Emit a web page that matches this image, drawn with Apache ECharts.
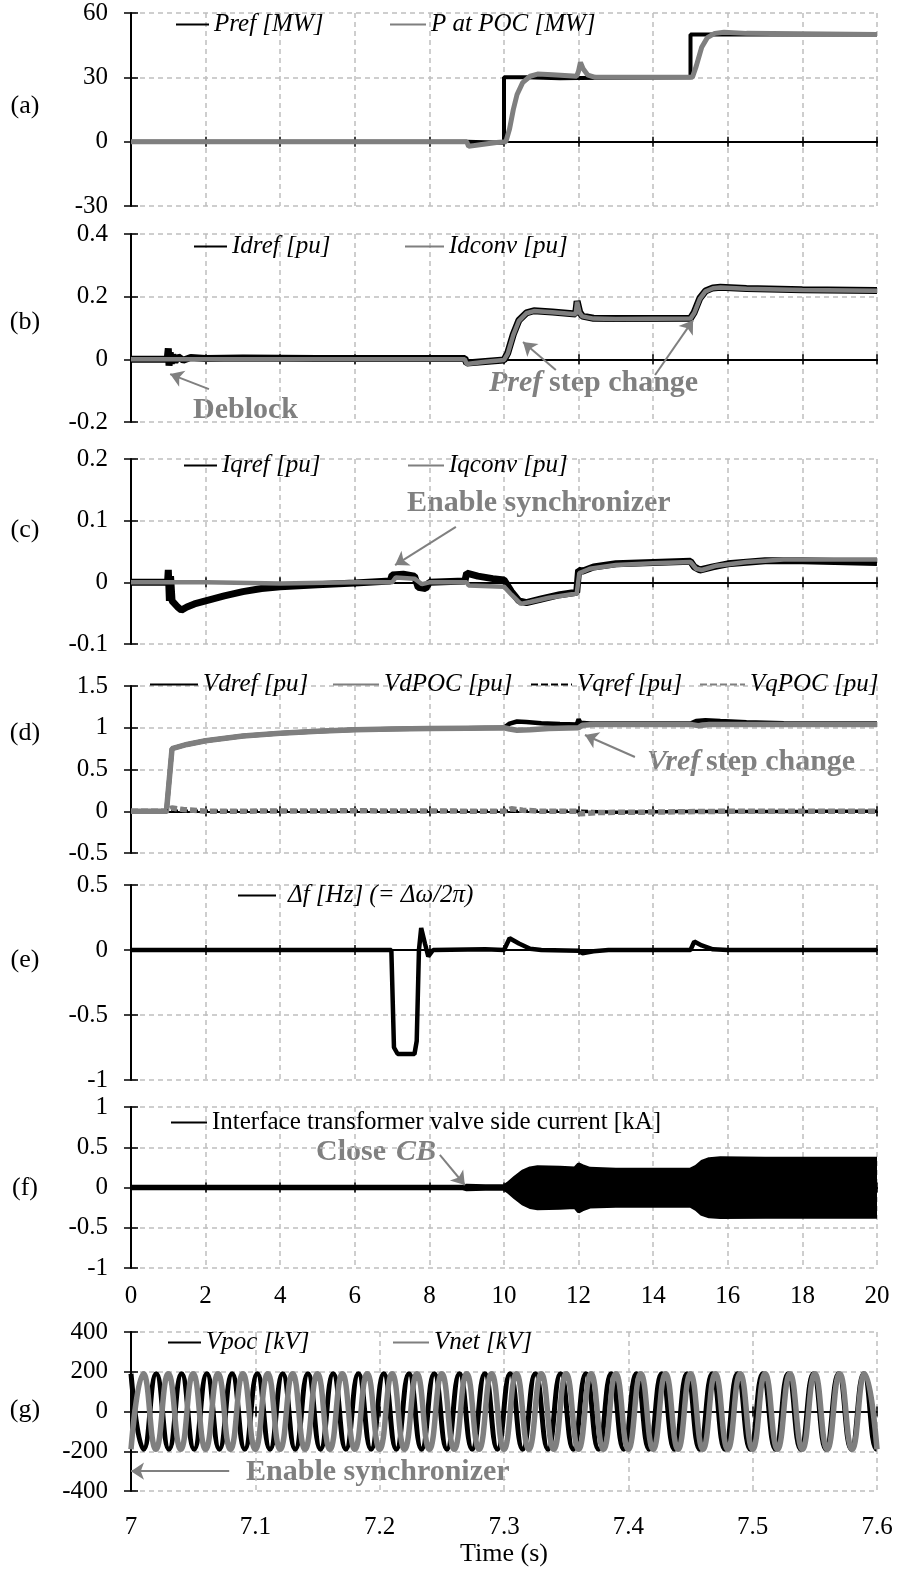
<!DOCTYPE html>
<html><head><meta charset="utf-8">
<script src="https://cdn.jsdelivr.net/npm/echarts@6/dist/echarts.min.js"></script>
<style>html,body{margin:0;padding:0;background:#fff}#c{width:919px;height:1572px}</style>
</head><body><div id="c"></div><script>
// ---------- DATA (time [s], value) ----------
// (a)
const prefMW = [[0,0],[9.0,0],[9.05,-0.8],[10.0,-0.5],[10.0,30],[10.6,30],[11.5,29.6],[12.0,29.7],[12.05,30],[15.0,30],[15.0,50],[20,50]];
const pPocMW = [[0,0],[9.0,0],[9.05,-2.2],[9.4,-1.3],[9.8,-0.4],[10.05,0],[10.15,6],[10.25,15],[10.35,22],[10.5,27.5],[10.7,30.5],[10.9,31.5],[11.3,31.2],[11.95,30.5],[12.0,33],[12.05,37],[12.12,34],[12.25,31],[12.45,30],[15.05,30],[15.15,35],[15.3,44],[15.45,48.5],[15.65,50.5],[15.9,51],[16.5,50.5],[20,50]];
// (b)
const idrefPU = [[0,0],[0.97,0],[1.0,0.035],[1.02,-0.02],[1.05,0.022],[1.08,-0.014],[1.12,0.014],[1.18,-0.008],[1.26,0.009],[1.4,-0.003],[1.6,0.006],[2,0.003],[3,0.004],[5,0.003],[7,0.003],[8.95,0.003],[9.0,-0.012],[9.5,-0.007],[10.0,-0.002],[10.1,0.02],[10.25,0.08],[10.4,0.125],[10.6,0.148],[10.8,0.155],[11.3,0.151],[11.92,0.145],[11.96,0.186],[12.03,0.15],[12.1,0.138],[12.4,0.131],[13,0.13],[15.0,0.131],[15.1,0.15],[15.25,0.195],[15.4,0.218],[15.6,0.228],[15.8,0.23],[16.5,0.226],[18,0.222],[20,0.22]];
const idconvPU = [[0,0],[8.95,0],[9.0,-0.015],[9.5,-0.008],[10.0,-0.002],[10.1,0.018],[10.25,0.078],[10.4,0.123],[10.6,0.147],[10.8,0.154],[11.3,0.15],[11.92,0.144],[11.96,0.184],[12.03,0.148],[12.1,0.137],[12.4,0.13],[13,0.129],[15,0.13],[15.1,0.148],[15.25,0.193],[15.4,0.217],[15.6,0.227],[15.8,0.229],[16.5,0.225],[18,0.221],[20,0.219]];
// (c)
const iqrefPU = [[0,0],[0.98,0],[1.0,0.02],[1.03,-0.03],[1.06,0.01],[1.1,-0.03],[1.25,-0.04],[1.35,-0.045],[1.5,-0.04],[1.7,-0.035],[2.0,-0.03],[2.5,-0.022],[3,-0.015],[3.5,-0.01],[4,-0.007],[5,-0.004],[6,-0.001],[6.95,0.002],[7.0,0.012],[7.3,0.013],[7.6,0.01],[7.7,-0.008],[7.9,-0.01],[8.0,0.0],[8.95,0.002],[9.0,0.015],[9.3,0.01],[9.7,0.006],[10.0,0.004],[10.2,-0.015],[10.4,-0.03],[10.6,-0.033],[11,-0.027],[11.5,-0.02],[11.95,-0.016],[12.0,0.02],[12.1,0.018],[12.4,0.025],[13,0.03],[14,0.032],[15.0,0.034],[15.1,0.025],[15.25,0.02],[15.6,0.025],[16,0.03],[17,0.035],[18,0.035],[20,0.032]];
const iqconvPU = [[0,0],[2,0],[4,-0.002],[6,0],[7,0],[7.1,0.008],[7.6,0.006],[7.8,-0.003],[8,0],[9,0],[9.05,-0.005],[10,-0.007],[10.2,-0.02],[10.45,-0.035],[10.7,-0.032],[11.2,-0.025],[11.95,-0.018],[12.02,0.015],[12.3,0.022],[13,0.028],[14,0.031],[15,0.033],[15.15,0.022],[15.3,0.02],[15.7,0.027],[16.5,0.033],[17.5,0.037],[20,0.037]];
// (d)
const vdrefPU = [[0,0],[0.95,0],[1.1,0.75],[1.5,0.8],[2,0.845],[3,0.9],[4,0.935],[5,0.958],[6,0.975],[7,0.985],[8,0.99],[9,0.995],[10,1.0],[10.15,1.05],[10.35,1.075],[10.6,1.07],[11,1.055],[11.5,1.045],[11.95,1.04],[12.0,1.1],[12.05,1.06],[12.3,1.05],[15,1.05],[15.15,1.08],[15.4,1.09],[15.8,1.08],[16.5,1.065],[17.5,1.055],[20,1.05]];
const vdpocPU = [[0,0],[0.95,0],[1.1,0.75],[1.5,0.8],[2,0.845],[3,0.9],[4,0.935],[5,0.958],[6,0.975],[7,0.985],[8,0.99],[9,0.995],[10,1.0],[10.15,0.985],[10.35,0.97],[10.7,0.975],[11.2,0.99],[12,1.0],[12.1,1.03],[12.4,1.04],[15,1.04],[15.2,1.025],[15.5,1.04],[20,1.04]];
const vqrefPU = [[0,0],[12,0],[12.05,-0.02],[13,-0.012],[14,-0.005],[20,0]];
const vqpocPU = [[0,0],[0.95,0],[1.1,0.04],[1.4,0.02],[2,0.0],[6,0.005],[10,0],[10.2,0.03],[10.5,0.012],[11,0],[12,0],[12.05,-0.03],[12.5,-0.015],[14,-0.01],[16,0],[20,0]];
// (e)
const dfHz = [[0,0],[6.98,0],[7.05,-0.75],[7.15,-0.8],[7.6,-0.8],[7.66,-0.7],[7.72,0.0],[7.78,0.17],[7.88,0.05],[7.97,-0.05],[8.1,0],[9.5,0.005],[10.0,0],[10.15,0.09],[10.4,0.05],[10.7,0.01],[11,0],[12,-0.005],[12.1,-0.025],[12.4,-0.01],[12.8,0],[15.0,0],[15.1,0.065],[15.3,0.035],[15.6,0.005],[16,0],[20,0]];
// (f) current envelope (upper / lower)
const iValveUpperKA = [[0,0.012],[8.9,0.012],[9.0,0.025],[9.5,0.02],[10.0,0.02],[10.1,0.05],[10.3,0.13],[10.5,0.2],[10.7,0.24],[10.9,0.255],[11.5,0.25],[11.9,0.24],[12.0,0.29],[12.1,0.27],[12.3,0.235],[13,0.225],[15.0,0.225],[15.15,0.26],[15.3,0.32],[15.5,0.355],[15.8,0.365],[17,0.36],[20,0.36]];
const iValveLowerKA = [[0,-0.012],[8.9,-0.012],[9.0,-0.025],[9.5,-0.02],[10.0,-0.02],[10.1,-0.05],[10.3,-0.13],[10.5,-0.2],[10.7,-0.245],[10.9,-0.26],[11.5,-0.255],[11.9,-0.245],[12.0,-0.3],[12.1,-0.275],[12.3,-0.24],[13,-0.23],[15.0,-0.23],[15.15,-0.27],[15.3,-0.33],[15.5,-0.36],[15.8,-0.37],[17,-0.367],[20,-0.367]];
// (g) extrema of the voltage waves
const vpocT = [7.0000,7.0102,7.0203,7.0305,7.0407,7.0508,7.0610,7.0711,7.0813,7.0915,7.1016,7.1118,7.1220,7.1321,7.1423,7.1524,7.1626,7.1728,7.1829,7.1931,7.2033,7.2134,7.2236,7.2337,7.2439,7.2541,7.2642,7.2744,7.2846,7.2947,7.3049,7.3150,7.3252,7.3354,7.3455,7.3557,7.3659,7.3760,7.3862,7.3963,7.4065,7.4167,7.4268,7.4370,7.4472,7.4573,7.4675,7.4776,7.4878,7.4980,7.5081,7.5183,7.5285,7.5386,7.5488,7.5589,7.5691,7.5793,7.5894,7.5996,7.6];
const vpocV = [190,-190,190,-190,190,-190,190,-190,190,-190,190,-190,190,-190,190,-190,190,-190,190,-190,190,-190,190,-190,190,-190,190,-190,190,-190,190,-190,190,-190,190,-190,190,-190,190,-190,190,-190,190,-190,190,-190,190,-190,190,-190,190,-190,190,-190,190,-190,190,-190,190,-190,-190];
const vnetT = [7.00,7.01,7.02,7.03,7.04,7.05,7.06,7.07,7.08,7.09,7.10,7.11,7.12,7.13,7.14,7.15,7.16,7.17,7.18,7.19,7.20,7.21,7.22,7.23,7.24,7.25,7.26,7.27,7.28,7.29,7.30,7.31,7.32,7.33,7.34,7.35,7.36,7.37,7.38,7.39,7.40,7.41,7.42,7.43,7.44,7.45,7.46,7.47,7.48,7.49,7.50,7.51,7.52,7.53,7.54,7.55,7.56,7.57,7.58,7.59,7.60];
const vnetV = [-190,190,-190,190,-190,190,-190,190,-190,190,-190,190,-190,190,-190,190,-190,190,-190,190,-190,190,-190,190,-190,190,-190,190,-190,190,-190,190,-190,190,-190,190,-190,190,-190,190,-190,190,-190,190,-190,190,-190,190,-190,190,-190,190,-190,190,-190,190,-190,190,-190,190,-190];
// axis ranges
const panelYRanges = [[-30,60,30],[-0.2,0.4,0.2],[-0.1,0.2,0.1],[-0.5,1.5,0.5],[-1,0.5,0.5],[-1,1,0.5],[-400,400,200]];
const panelLabels = ['(a)','(b)','(c)','(d)','(e)','(f)','(g)'];

// ---------- LAYOUT ----------
const FONT = '"Liberation Serif","Times New Roman",serif';
const BLACK = '#000', GRAY = '#7f7f7f', GRIDC = '#bfbfbf', ANN = '#808080';
const X0 = 131, XW = 746;
const tops = [13,234,459,686,885,1107,1332];
const heights = [193,188,185,167,195,161,159];
const labelY = [106,322,530,733,960,1188,1410];

const grids = [], xAxes = [], yAxes = [], mainX = [], mainY = [];
tops.forEach((top, i) => {
  grids.push({left: X0, top: top, width: XW, height: heights[i]});
  const xr = i === 6 ? {min: 7, max: 7.6, interval: 0.1} : {min: 0, max: 20, interval: 2};
  const lw = i === 6 ? 1.5 : 2;
  mainX[i] = xAxes.length;
  xAxes.push(Object.assign({gridIndex: i, type: 'value', position: 'bottom', z: 1,
    axisLine: {onZero: true, lineStyle: {color: BLACK, width: lw}},
    axisTick: {show: true, inside: false, length: 5, lineStyle: {color: BLACK, width: 1.5}},
    axisLabel: {show: false},
    splitLine: {show: true, showMinLine: false, lineStyle: {color: GRIDC, type: [5, 4], width: 1.5}}}, xr));
  xAxes.push(Object.assign({gridIndex: i, type: 'value', position: 'bottom', z: 1,
    axisLine: {show: true, onZero: true, lineStyle: {color: BLACK, width: lw}},
    axisTick: {show: true, inside: true, length: 5, lineStyle: {color: BLACK, width: 1.5}},
    axisLabel: {show: false}, splitLine: {show: false}}, xr));
  if (i >= 5) {
    xAxes.push(Object.assign({gridIndex: i, type: 'value', position: 'bottom',
      axisLine: {show: false, onZero: false}, axisTick: {show: false},
      axisLabel: {show: true, margin: i === 6 ? 24 : 16, color: BLACK, fontFamily: FONT, fontSize: 25},
      splitLine: {show: false},
      name: i === 6 ? 'Time (s)' : '', nameLocation: 'middle', nameGap: 50,
      nameTextStyle: {color: BLACK, fontFamily: FONT, fontSize: 26}}, xr));
  }
  const yr = panelYRanges[i];
  yAxes.push({gridIndex: i, type: 'value', position: 'left', min: yr[0], max: yr[1], interval: yr[2], z: 0,
    axisLine: {show: false, onZero: false}, axisTick: {show: false}, axisLabel: {show: false},
    splitLine: {show: true, lineStyle: {color: GRIDC, type: [5, 4], width: 1.5}}});
  mainY[i] = yAxes.length;
  yAxes.push({gridIndex: i, type: 'value', position: 'left', min: yr[0], max: yr[1], interval: yr[2], z: 3,
    axisLine: {show: true, onZero: false, lineStyle: {color: BLACK, width: 2}},
    axisTick: {show: true, inside: false, length: 7, lineStyle: {color: BLACK, width: 1.5}},
    axisLabel: {show: true, margin: 23, color: BLACK, fontFamily: FONT, fontSize: 25},
    splitLine: {show: false}});
  yAxes.push({gridIndex: i, type: 'value', position: 'left', min: yr[0], max: yr[1], interval: yr[2], z: 3,
    axisLine: {show: false, onZero: false},
    axisTick: {show: true, inside: true, length: 7, lineStyle: {color: BLACK, width: 1.5}},
    axisLabel: {show: false}, splitLine: {show: false}});
});

function ln(name, data, i, color, width, extra) {
  return Object.assign({type: 'line', name: name, data: data, xAxisIndex: mainX[i], yAxisIndex: mainY[i],
    symbol: 'none', showSymbol: false, animation: false,
    lineStyle: {color: color, width: width}, itemStyle: {color: color}}, extra || {});
}
function arrows(list) {
  return {silent: true, animation: false, symbol: ['none', 'arrow'], symbolSize: 13,
    lineStyle: {color: ANN, width: 2, type: 'solid'}, label: {show: false},
    data: list.map(a => [{coord: a[0]}, {coord: a[1]}])};
}
const zip = (t, v) => t.map((x, k) => [x, v[k]]);

const series = [
  ln('Pref [MW]', prefMW, 0, BLACK, 4),
  ln('P at POC [MW]', pPocMW, 0, GRAY, 5),
  ln('Idref [pu]', idrefPU, 1, BLACK, 7),
  ln('Idconv [pu]', idconvPU, 1, GRAY, 4.5, {markLine: arrows([[[2.09,-0.095],[1.05,-0.047]],[[11.39,-0.034],[10.51,0.055]],[[14.05,-0.05],[15.07,0.125]]])}),
  ln('Iqref [pu]', iqrefPU, 2, BLACK, 7),
  ln('Iqconv [pu]', iqconvPU, 2, GRAY, 4.5, {markLine: arrows([[[8.71,0.09],[7.08,0.028]]])}),
  ln('Vdref [pu]', vdrefPU, 3, BLACK, 4.5),
  ln('VdPOC [pu]', vdpocPU, 3, GRAY, 5.5, {markLine: arrows([[[13.51,0.65],[12.17,0.913]]])}),
  ln('Vqref [pu]', vqrefPU, 3, BLACK, 3.5, {lineStyle: {color: BLACK, width: 3.5, type: [7, 3]}}),
  ln('VqPOC [pu]', vqpocPU, 3, GRAY, 5.5, {lineStyle: {color: GRAY, width: 5.5, type: [7, 3]}}),
  ln('Δf [Hz] (= Δω/2π)', dfHz, 4, BLACK, 4.5),
  ln('Interface transformer valve side current [kA]', iValveUpperKA, 5, BLACK, 3.5, {areaStyle: {color: BLACK, opacity: 1}, markLine: arrows([[[8.28,0.404],[8.95,0.031]]])}),
  ln('Interface transformer valve side current [kA]', iValveLowerKA, 5, BLACK, 3.5, {areaStyle: {color: BLACK, opacity: 1}}),
  ln('Vpoc [kV]', zip(vpocT, vpocV), 6, BLACK, 5, {smooth: true}),
  ln('Vnet [kV]', zip(vnetT, vnetV), 6, GRAY, 5.5, {smooth: true, markLine: arrows([[[7.079,-300],[7.0,-300]]])})
];

// legends: [name, iconLeft, textLeft, centerY, italic]
const legendItems = [
  ['Pref [MW]',175,213,25,true],['P at POC [MW]',389,430,25,true],
  ['Idref [pu]',193,231,247,true],['Idconv [pu]',404,448,247,true],
  ['Iqref [pu]',183,221,466,true],['Iqconv [pu]',407,448,466,true],
  ['Vdref [pu]',149,202,685,true],['VdPOC [pu]',332,383,685,true],['Vqref [pu]',530,576,685,true],['VqPOC [pu]',699,749,685,true],
  ['Δf [Hz] (= Δω/2π)',237,287,896,true],
  ['Interface transformer valve side current [kA]',170,211,1123,false],
  ['Vpoc [kV]',167,205,1343,true],['Vnet [kV]',392,433,1343,true]
];
const legends = legendItems.map(it => {
  let iw = it[2] - 5 - it[1], pad = 0;
  if (iw > 40 && it[0].startsWith('Δ')) { pad = iw - 38; iw = 38; }
  return {left: it[1], top: it[3] - 13, padding: 0, itemGap: 0, itemWidth: iw, itemHeight: 14,
    selectedMode: false, data: [it[0]],
    itemStyle: {opacity: 0, borderWidth: 0},
    textStyle: {color: BLACK, fontFamily: FONT, fontSize: 25, fontStyle: it[4] ? 'italic' : 'normal', padding: [0,0,0,pad]}};
});

const annFont = (italic) => (italic ? 'italic ' : '') + 'bold 30px ' + FONT;
function txt(s, x, y, italic, color, font) {
  return {type: 'text', x: x, y: y, silent: true,
    style: {text: s, font: font || annFont(italic), fill: color || ANN, align: 'left', verticalAlign: 'middle'}};
}
const graphics = [
  txt('Deblock', 193, 410, false),
  txt('Pref', 489, 383, true), txt('step change', 549, 383, false),
  txt('Enable synchronizer', 407, 503, false),
  txt('Vref', 647, 762, true), txt('step change', 706, 762, false),
  txt('Close ', 316, 1152, false), txt('CB', 396, 1152, true),
  txt('Enable synchronizer', 246, 1472, false)
];
panelLabels.forEach((s, i) => graphics.push({type: 'text', x: 25, y: labelY[i], silent: true,
  style: {text: s, font: '26px ' + FONT, fill: BLACK, align: 'center', verticalAlign: 'middle'}}));

const chart = echarts.init(document.getElementById('c'), null, {renderer: 'canvas'});
chart.setOption({
  animation: false, backgroundColor: '#fff',
  grid: grids, xAxis: xAxes, yAxis: yAxes, series: series, legend: legends, graphic: graphics
});
</script></body></html>
